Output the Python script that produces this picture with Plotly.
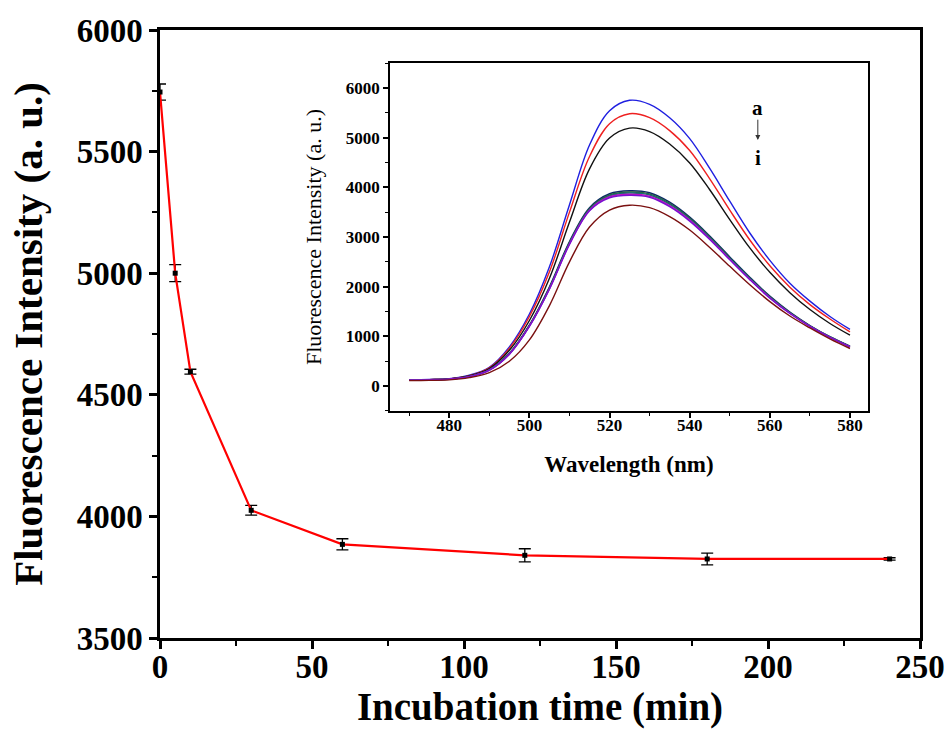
import plotly.graph_objects as go

# ---- main plot data ----
time_min = [0, 5, 10, 30, 60, 120, 180, 240]
intensity = [5745, 5000, 4595, 4025, 3885, 3840, 3825, 3825]
intensity_err = [33, 35, 10, 20, 23, 27, 24, 5]

# ---- inset spectra data ----
wavelength = [470, 475, 480, 485, 490, 495, 500, 505, 510, 515, 520, 525,
              530, 535, 540, 545, 550, 555, 560, 565, 570, 575, 580]
spec_a = [130, 135, 150, 220, 380, 790, 1450, 2400, 3650, 4850, 5540, 5750,
          5670, 5400, 4980, 4380, 3720, 3080, 2530, 2070, 1710, 1400, 1140]
spec_b = [125, 130, 145, 210, 370, 760, 1400, 2300, 3500, 4620, 5280, 5480,
          5400, 5140, 4740, 4170, 3540, 2940, 2420, 1990, 1640, 1350, 1090]
spec_c = [125, 130, 145, 205, 355, 720, 1320, 2170, 3300, 4370, 4990, 5190,
          5120, 4870, 4490, 3950, 3350, 2780, 2290, 1880, 1540, 1260, 1025]
spec_d = [122, 127, 142, 195, 330, 660, 1230, 2000, 2910, 3590, 3870, 3930,
          3890, 3700, 3400, 3020, 2600, 2190, 1810, 1490, 1220, 995, 805]
spec_e = [121, 126, 141, 193, 326, 652, 1218, 1980, 2890, 3570, 3845, 3905,
          3865, 3675, 3380, 3000, 2580, 2175, 1798, 1480, 1213, 990, 800]
spec_f = [121, 126, 140, 192, 323, 646, 1210, 1965, 2870, 3550, 3825, 3885,
          3845, 3655, 3360, 2985, 2565, 2163, 1788, 1472, 1207, 985, 796]
spec_g = [120, 125, 140, 190, 321, 643, 1205, 1958, 2860, 3540, 3810, 3860,
          3820, 3630, 3340, 2965, 2550, 2150, 1778, 1465, 1203, 982, 792]
spec_h = [120, 125, 140, 190, 320, 640, 1200, 1950, 2850, 3530, 3790, 3840,
          3800, 3610, 3320, 2950, 2540, 2140, 1770, 1460, 1200, 980, 790]
spec_i = [110, 115, 125, 170, 270, 500, 930, 1620, 2500, 3200, 3540, 3640,
          3590, 3410, 3140, 2790, 2410, 2040, 1700, 1410, 1170, 950, 757]

spectra = [spec_a, spec_b, spec_c, spec_d, spec_e, spec_f, spec_g, spec_h, spec_i]
spec_labels = ["a", "b", "c", "d", "e", "f", "g", "h", "i"]
spec_colors = ["#1f1fe0", "#ee2020", "#111111", "#0a2a6a", "#2f5f3f",
               "#107070", "#c010c0", "#7a10d0", "#7a1010"]

FONT = "Liberation Serif"

fig = go.Figure()

fig.add_trace(go.Scatter(
    x=time_min, y=intensity, mode="lines+markers",
    line=dict(color="#ff0000", width=2.2),
    marker=dict(color="black", symbol="square", size=5),
    error_y=dict(type="data", array=intensity_err, color="black",
                 thickness=1.3, width=6),
    showlegend=False, xaxis="x", yaxis="y"))

for lab, col, s in zip(spec_labels, spec_colors, spectra):
    fig.add_trace(go.Scatter(
        x=wavelength, y=s, mode="lines", name=lab,
        line=dict(color=col, width=1.4, shape="spline", smoothing=1.0),
        showlegend=False, xaxis="x2", yaxis="y2"))

main_axis = dict(showline=True, linecolor="black", linewidth=2.5, mirror=True,
                 ticks="outside", ticklen=8, tickwidth=2.5, tickcolor="black",
                 showgrid=False, zeroline=False, automargin=False,
                 tickfont=dict(family=FONT, size=33, color="black", weight="bold"))

fig.update_layout(
    width=945, height=749, autosize=False,
    margin=dict(l=160, r=25, t=30, b=111),
    paper_bgcolor="white", plot_bgcolor="white",
    xaxis=dict(main_axis, range=[0, 250], dtick=50, tick0=0,
               ticklabelstandoff=-10,
               minor=dict(ticks="outside", ticklen=5, tickwidth=2, dtick=25,
                          tickcolor="black"),
               title=dict(text="Incubation time (min)", standoff=2,
                          font=dict(family=FONT, size=39, color="black", weight="bold"))),
    yaxis=dict(main_axis, range=[3500, 6000], dtick=500, tick0=3500,
               minor=dict(ticks="outside", ticklen=5, tickwidth=2, dtick=250,
                          tickcolor="black"),
               title=dict(text="Fluorescence Intensity (a. u.)", standoff=22,
                          font=dict(family=FONT, size=41, color="black", weight="bold"))),
    xaxis2=dict(domain=[0.3026, 0.9316], anchor="y2", range=[465.2, 584.5],
                showline=True, linecolor="black", linewidth=1.5, mirror=True,
                ticks="outside", ticklen=5, tickwidth=1.5, tickcolor="black",
                ticklabelstandoff=-7,
                dtick=20, tick0=480, showgrid=False, zeroline=False,
                minor=dict(ticks="outside", ticklen=3, tickwidth=1.2, dtick=10,
                           tickcolor="black"),
                tickfont=dict(family=FONT, size=17, color="black", weight="bold"),
                title=dict(text="Wavelength (nm)", standoff=22,
                           font=dict(family=FONT, size=23, color="black", weight="bold"))),
    yaxis2=dict(domain=[0.3734, 0.9457], anchor="x2", range=[-500, 6500],
                showline=True, linecolor="black", linewidth=1.5, mirror=True,
                ticks="outside", ticklen=5, tickwidth=1.5, tickcolor="black",
                dtick=1000, tick0=0, showgrid=False, zeroline=False,
                minor=dict(ticks="outside", ticklen=3, tickwidth=1.2, dtick=500,
                           tickcolor="black"),
                tickfont=dict(family=FONT, size=17, color="black", weight="bold"),
                title=dict(text="Fluorescence Intensity (a. u.)", standoff=18,
                           font=dict(family=FONT, size=22, color="black"))),
)

fig.add_annotation(x=557, y=5590, xref="x2", yref="y2", text="a",
                   showarrow=False, font=dict(family=FONT, size=21, color="black",
                                              weight="bold"))
fig.add_annotation(x=557, y=4590, xref="x2", yref="y2", text="i",
                   showarrow=False, font=dict(family=FONT, size=21, color="black",
                                              weight="bold"))
fig.add_annotation(x=557, y=4950, ax=557, ay=5390, xref="x2", yref="y2",
                   axref="x2", ayref="y2", text="", showarrow=True,
                   arrowhead=2, arrowsize=1, arrowwidth=1, arrowcolor="#333333")

fig.write_html("out.html", config={"displayModeBar": False},
               post_script="document.body.style.margin='0';")
